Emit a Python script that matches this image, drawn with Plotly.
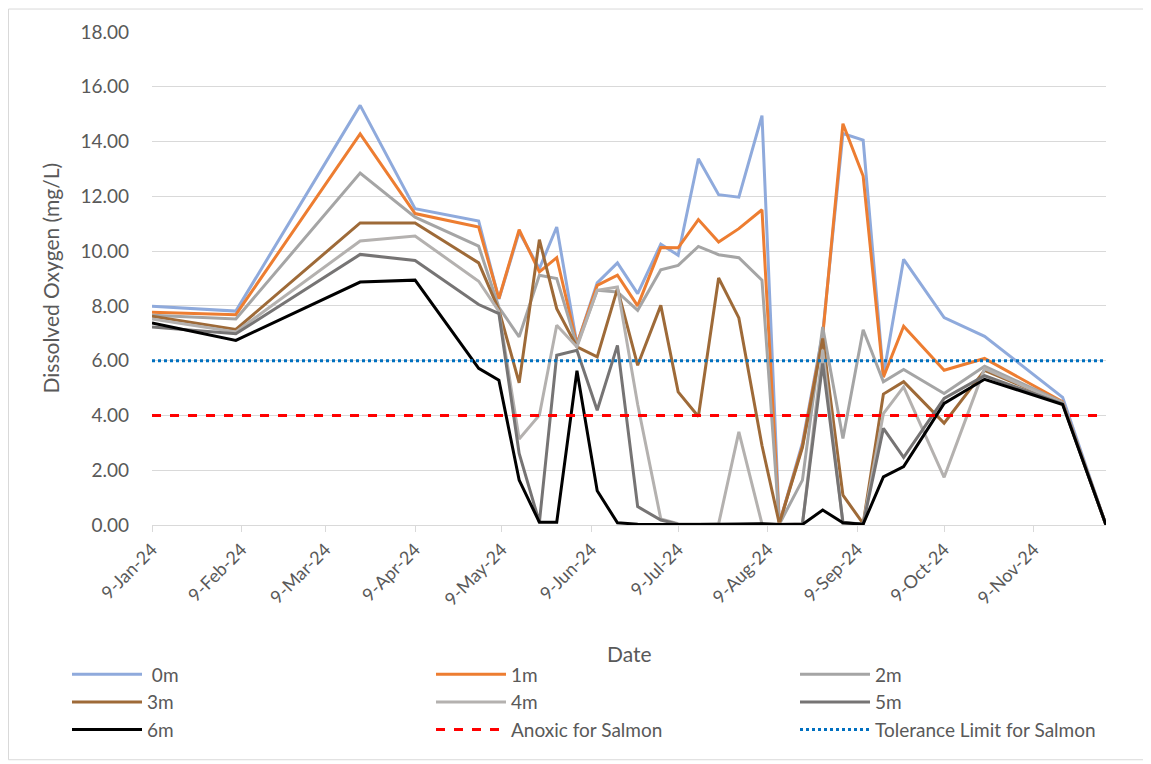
import plotly.graph_objects as go

dates = ["2024-01-09", "2024-02-07", "2024-03-21", "2024-04-09", "2024-05-01", "2024-05-08",
         "2024-05-15", "2024-05-22", "2024-05-28", "2024-06-04", "2024-06-11", "2024-06-18",
         "2024-06-25", "2024-07-03", "2024-07-09", "2024-07-16", "2024-07-23", "2024-07-30",
         "2024-08-07", "2024-08-13", "2024-08-21", "2024-08-28", "2024-09-04", "2024-09-11",
         "2024-09-18", "2024-09-25", "2024-10-09", "2024-10-23", "2024-11-19", "2024-12-04"]

do_0m = [7.99, 7.81, 15.32, 11.55, 11.10, 8.25, 10.70, 9.36, 10.88, 6.60, 8.84, 9.57, 8.45, 10.25,
         9.85, 13.37, 12.06, 11.97, 14.95, 0.05, 3.00, 7.00, 14.29, 14.05, 5.45, 9.70, 7.57, 6.89,
         4.66, 0.00]
do_1m = [7.77, 7.68, 14.28, 11.37, 10.88, 8.27, 10.78, 9.24, 9.76, 6.60, 8.75, 9.12, 8.00, 10.13,
         10.12, 11.15, 10.33, 10.82, 11.51, 0.05, 2.90, 6.90, 14.65, 12.74, 5.40, 7.26, 5.65, 6.08,
         4.50, 0.00]
do_2m = [7.66, 7.52, 12.85, 11.24, 10.18, 7.95, 6.87, 9.12, 9.00, 6.55, 8.57, 8.51, 7.84, 9.32,
         9.48, 10.17, 9.87, 9.76, 8.94, 0.03, 1.64, 7.23, 3.16, 7.13, 5.23, 5.68, 4.80, 5.80,
         4.48, 0.00]
do_3m = [7.62, 7.14, 11.03, 11.03, 9.57, 7.85, 5.19, 10.42, 7.90, 6.50, 6.14, 8.63, 5.83, 8.02,
         4.86, 3.96, 9.02, 7.56, 2.90, 0.05, 2.83, 6.81, 1.09, 0.05, 4.78, 5.23, 3.72, 5.65,
         4.45, 0.00]
do_4m = [7.52, 7.05, 10.37, 10.55, 8.90, 7.80, 3.14, 4.01, 7.29, 6.50, 8.57, 8.69, 4.40, 0.22,
         0.05, 0.04, 0.04, 3.40, 0.04, 0.03, 0.03, 6.40, 0.05, 0.04, 4.07, 5.04, 1.74, 5.71,
         4.45, 0.00]
do_5m = [7.23, 6.98, 9.88, 9.66, 8.05, 7.72, 2.61, 0.10, 6.20, 6.38, 4.19, 6.56, 0.67, 0.18,
         0.03, 0.02, 0.02, 0.02, 0.03, 0.02, 0.05, 5.90, 0.10, 0.03, 3.53, 2.47, 4.62, 5.45,
         4.42, 0.00]
do_6m = [7.38, 6.74, 8.87, 8.94, 5.72, 5.29, 1.64, 0.10, 0.10, 5.63, 1.25, 0.08, 0.03, 0.02,
         0.02, 0.02, 0.03, 0.04, 0.05, 0.02, 0.02, 0.55, 0.08, 0.03, 1.76, 2.13, 4.44, 5.32,
         4.40, 0.00]

anoxic_limit = 4.0
tolerance_limit = 6.0

tick_dates = ["2024-01-09", "2024-02-09", "2024-03-09", "2024-04-09", "2024-05-09", "2024-06-09",
              "2024-07-09", "2024-08-09", "2024-09-09", "2024-10-09", "2024-11-09"]

series = [
    (" 0m", do_0m, "#8FAADC"),
    ("1m", do_1m, "#ED7D31"),
    ("2m", do_2m, "#A5A5A5"),
    ("3m", do_3m, "#9E6A38"),
    ("4m", do_4m, "#B4B1AF"),
    ("5m", do_5m, "#767474"),
    ("6m", do_6m, "#000000"),
]

FONT = "Lato, Carlito, 'Liberation Sans', sans-serif"
TXT = "#595959"

fig = go.Figure()
for name, vals, col in series:
    fig.add_trace(go.Scatter(x=dates, y=vals, name=name, mode="lines",
                             line=dict(color=col, width=3)))

fig.add_trace(go.Scatter(x=[dates[0], dates[-1]], y=[anoxic_limit, anoxic_limit],
                         name="Anoxic for Salmon", mode="lines",
                         line=dict(color="#FF0000", width=3, dash="dash")))
fig.add_trace(go.Scatter(x=[dates[0], dates[-1]], y=[tolerance_limit, tolerance_limit],
                         name="Tolerance Limit for Salmon", mode="lines",
                         line=dict(color="#0070C0", width=3, dash="dot")))

OFF = 8  # page body margin
W, H = 1151, 764
L, R, T, B = 152 - OFF, 45 + OFF, 31.5 - OFF, 239 + OFF
pw = W - L - R
ph = H - T - B


def px(xs):
    # screen x -> paper x
    return (xs - OFF - L) / pw


def py(ys):
    # screen y -> paper y
    return (H - B - (ys - OFF)) / ph


fig.update_layout(
    width=W, height=H,
    margin=dict(l=L, r=R, t=T, b=B, autoexpand=False),
    paper_bgcolor="white", plot_bgcolor="white",
    font=dict(family=FONT, color=TXT, size=19),
    showlegend=True,
    legend=dict(orientation="h", x=px(67), xanchor="left", y=py(655.5), yanchor="top",
                itemwidth=70, entrywidth=279, entrywidthmode="pixels",
                font=dict(family=FONT, size=19, color=TXT),
                bgcolor="rgba(0,0,0,0)", traceorder="normal"),
    xaxis=dict(type="date", range=[dates[0], dates[-1]], tickvals=tick_dates,
               tickformat="%-d-%b-%y", tickangle=-45, showgrid=False,
               ticks="outside", ticklen=6, tickcolor="#D9D9D9", tickwidth=1,
               showline=True, linecolor="#D9D9D9", linewidth=1,
               tickfont=dict(family=FONT, size=18, color=TXT), zeroline=False),
    yaxis=dict(range=[0, 18], dtick=2, tickformat=".2f", showgrid=True,
               gridcolor="#D9D9D9", gridwidth=1, zeroline=False, showline=False,
               tickfont=dict(family=FONT, size=19, color=TXT), ticklabelstandoff=22),
    shapes=[dict(type="rect", xref="paper", yref="paper",
                 x0=px(8.5), x1=px(1147), y0=py(760), y1=py(8.5),
                 line=dict(color="#D9D9D9", width=1), fillcolor="rgba(0,0,0,0)", layer="below")],
    annotations=[
        dict(text="Date", xref="paper", yref="paper", x=0.5, y=py(654), xanchor="center",
             yanchor="middle", showarrow=False, font=dict(family=FONT, size=21, color=TXT)),
        dict(text="Dissolved Oxygen (mg/L)", xref="paper", yref="paper", x=px(50), y=0.5,
             xanchor="center", yanchor="middle", textangle=-90, showarrow=False,
             font=dict(family=FONT, size=21, color=TXT)),
    ],
)

fig.write_html("out.html")
